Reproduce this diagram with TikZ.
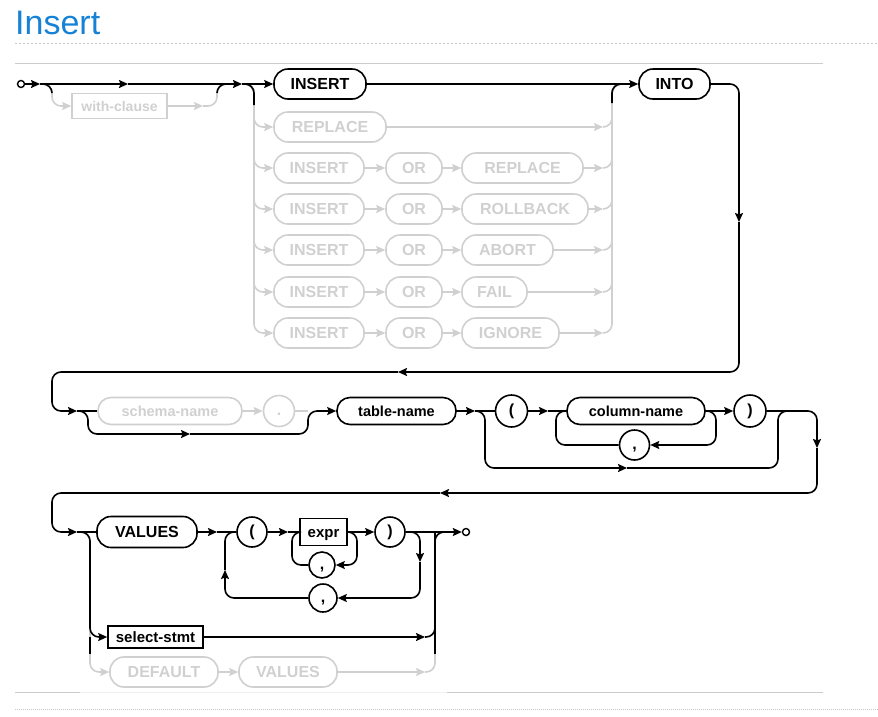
\documentclass[tikz,border=0pt]{standalone}
\usepackage{fontspec}
\setmainfont{Liberation Sans}
\usepackage{xcolor}
\usepackage{tikz}
\usetikzlibrary{shapes,arrows.meta,positioning}

\definecolor{ghost}{RGB}{208,208,208}
\definecolor{headblue}{RGB}{22,130,214}

\tikzset{
    wire/.style={line width=1.6pt},
    bent/.style={rounded corners=9pt},
    faded/.style={draw=ghost, text=ghost},
    kw/.style={draw, line width=1.6pt, rounded corners=14pt,
        minimum height=30pt, inner sep=0pt,
        font=\fontsize{16}{18}\selectfont\bfseries,
        text height=11.5pt, text depth=0pt},
    nm/.style={kw, minimum height=27pt, rounded corners=13pt,
        font=\fontsize{14.5}{17}\selectfont\bfseries, text height=10.5pt},
    ref/.style={draw, line width=1.6pt, inner sep=0pt,
        font=\fontsize{15}{17}\selectfont\bfseries,
        text height=10.5pt, text depth=0pt},
    tok/.style={draw, circle, line width=1.6pt, inner sep=0pt,
        minimum size=30pt, font=\fontsize{16}{18}\selectfont\bfseries,
        text height=11.5pt, text depth=3.5pt},
    term/.style={draw, circle, line width=1.4pt, inner sep=0pt,
        minimum size=7pt, fill=white},
    >={Stealth[length=9pt,width=8pt,inset=1.5pt]},
}

\begin{document}
\begin{tikzpicture}[x=1pt, y=-1pt]
                \useasboundingbox (0,0) rectangle (878,716);

                % heading and page rules
                \node[anchor=base west, inner sep=0pt, text=headblue,
                    font=\fontsize{34}{40}\selectfont] (head) at (15,34) {Insert};
                \draw[gray!45, line width=0.8pt, dash pattern=on 2pt off 2pt] (15,43) -- (878,43);
                \draw[gray!40, line width=1pt] (15,63) -- (823,63);
                \draw[gray!40, line width=1pt] (15,692) -- (823,692);
                \draw[gray!12, line width=1pt] (80,692) -- (447,692);
                \draw[gray!45, line width=0.8pt, dash pattern=on 1pt off 1pt] (15,709) -- (878,709);

                % first line: with-clause, verb, INTO
                \node[term] (beg) at (21,84) {};
                \node[ref, faded, minimum width=95pt, minimum height=25pt,
                    font=\fontsize{14}{16}\selectfont\bfseries] (withc) at (119.5,106) {with-clause};
                \node[kw, minimum width=92pt] (ins) at (320,84) {INSERT};
                \node[kw, minimum width=71pt] (into) at (674.5,84) {INTO};

                \node[kw, faded, minimum width=112pt] (rep2) at (330,127) {REPLACE};

                \node[kw, faded, minimum width=90pt] (ins3) at (319,168) {INSERT};
                \node[kw, faded, minimum width=56pt] (or3) at (414,168) {OR};
                \node[kw, faded, minimum width=121pt] (rep3) at (522.5,168) {REPLACE};

                \node[kw, faded, minimum width=90pt] (ins4) at (319,209) {INSERT};
                \node[kw, faded, minimum width=56pt] (or4) at (414,209) {OR};
                \node[kw, faded, minimum width=126pt] (rol4) at (525,209) {ROLLBACK};

                \node[kw, faded, minimum width=90pt] (ins5) at (319,250) {INSERT};
                \node[kw, faded, minimum width=56pt] (or5) at (414,250) {OR};
                \node[kw, faded, minimum width=91pt] (abo5) at (507.5,250) {ABORT};

                \node[kw, faded, minimum width=90pt] (ins6) at (319,292) {INSERT};
                \node[kw, faded, minimum width=56pt] (or6) at (414,292) {OR};
                \node[kw, faded, minimum width=65pt] (fail6) at (494.5,292) {FAIL};

                \node[kw, faded, minimum width=90pt] (ins7) at (319,333) {INSERT};
                \node[kw, faded, minimum width=56pt] (or7) at (414,333) {OR};
                \node[kw, faded, minimum width=97pt] (ign7) at (510.5,333) {IGNORE};

                % second line: table and columns
                \node[nm, faded, minimum width=144pt] (schema) at (170,411) {schema-name};
                \node[tok, faded, minimum size=31pt] (dot) at (279,411) {.};
                \node[nm, minimum width=119pt] (tbl) at (396.5,411) {table-name};
                \node[tok, minimum size=32pt] (lp1) at (511.5,411) {(};
                \node[nm, minimum width=138pt] (col) at (636,411) {column-name};
                \node[tok, minimum size=32pt] (rp1) at (750,411) {)};
                \node[tok] (cm1) at (634.5,445) {,};

                % third line: values
                \node[kw, minimum width=100pt, minimum height=31pt] (vals) at (147,532) {VALUES};
                \node[tok] (lp2) at (252,532) {(};
                \node[ref, minimum width=47pt, minimum height=27pt] (expr) at (323.5,532) {expr};
                \node[tok, minimum size=26pt] (cm2) at (322,565) {,};
                \node[tok] (rp2) at (390,532) {)};
                \node[tok, minimum size=28pt] (cm3) at (323,598) {,};
                \node[term] (fin) at (466,532) {};
                \node[ref, minimum width=95pt, minimum height=22pt] (sel) at (155.5,637) {select-stmt};
                \node[kw, faded, minimum width=108pt] (dflt) at (164,672) {DEFAULT};
                \node[kw, faded, minimum width=98pt] (vals2) at (288,672) {VALUES};

                % junctions
                \coordinate (m1) at (40,84);
                \coordinate (m2) at (128,84);
                \coordinate (m3) at (242,84);
                \coordinate (wl) at (52,93);
                \coordinate (w3) at (203,106);
                \coordinate (wr) at (217,93);
                \coordinate (w2) at (226,84);
                \coordinate (lx) at (254,84);
                \coordinate (lb) at (254,105);
                \coordinate (rt) at (603,84);
                \coordinate (rr) at (612,84);
                \coordinate (rb) at (612,103);
                \coordinate (rj) at (621,84);
                \coordinate (a1) at (739,222);
                \coordinate (a2) at (398,372);
                \coordinate (c1) at (52,411);
                \coordinate (a3) at (77,411);
                \coordinate (bl) at (88,434);
                \coordinate (b1) at (190,434);
                \coordinate (b2) at (308,411);
                \coordinate (p1) at (475,411);
                \coordinate (pl) at (485,468);
                \coordinate (p3) at (627,468);
                \coordinate (p4) at (778,411);
                \coordinate (p5) at (788,411);
                \coordinate (q1) at (548,411);
                \coordinate (q2) at (716,445);
                \coordinate (q4) at (556,411);
                \coordinate (r1) at (817,448);
                \coordinate (r2) at (440,493);
                \coordinate (c2) at (52,532);
                \coordinate (r4) at (77,532);
                \coordinate (sl) at (90,637);
                \coordinate (sb) at (90,654);
                \coordinate (dl) at (90,672);
                \coordinate (t1) at (217,532);
                \coordinate (t2) at (288,532);
                \coordinate (v1) at (357,565);
                \coordinate (v2) at (292,532);
                \coordinate (u1) at (420,562);
                \coordinate (u2) at (225,570);
                \coordinate (y1) at (425,672);
                \coordinate (y2) at (425,637);
                \coordinate (x0) at (435,532);
                \coordinate (xj) at (444,532);
                \coordinate (xb) at (435,654);

                % faded paths first
                \draw[wire, bent, faded, ->] (m1) -| (wl |- withc) -- (withc);
                \draw[wire, faded, ->] (withc) -- (w3);
                \draw[wire, bent, faded] (w3) -| (wr |- w2) -- (w2);

                \draw[wire, bent, faded, ->] (m3) -| (lx |- rep2) -- (rep2);
                \draw[wire, bent, faded, ->] (m3) -| (lx |- ins3) -- (ins3);
                \draw[wire, bent, faded, ->] (m3) -| (lx |- ins4) -- (ins4);
                \draw[wire, bent, faded, ->] (m3) -| (lx |- ins5) -- (ins5);
                \draw[wire, bent, faded, ->] (m3) -| (lx |- ins6) -- (ins6);
                \draw[wire, bent, faded, ->] (m3) -| (lx |- ins7) -- (ins7);

                \draw[wire, faded, ->] (ins3) -- (or3);
                \draw[wire, faded, ->] (or3) -- (rep3);
                \draw[wire, faded, ->] (ins4) -- (or4);
                \draw[wire, faded, ->] (or4) -- (rol4);
                \draw[wire, faded, ->] (ins5) -- (or5);
                \draw[wire, faded, ->] (or5) -- (abo5);
                \draw[wire, faded, ->] (ins6) -- (or6);
                \draw[wire, faded, ->] (or6) -- (fail6);
                \draw[wire, faded, ->] (ins7) -- (or7);
                \draw[wire, faded, ->] (or7) -- (ign7);

                \draw[wire, faded, ->] (rep2) -- (rt |- rep2);
                \draw[wire, faded, ->] (rep3) -- (rt |- rep3);
                \draw[wire, faded, ->] (rol4) -- (rt |- rol4);
                \draw[wire, faded, ->] (abo5) -- (rt |- abo5);
                \draw[wire, faded, ->] (fail6) -- (rt |- fail6);
                \draw[wire, faded, ->] (ign7) -- (rt |- ign7);
                \draw[wire, bent, faded] (rt |- rep2) -| (rr) -- (rj);
                \draw[wire, bent, faded] (rt |- rep3) -| (rr) -- (rj);
                \draw[wire, bent, faded] (rt |- rol4) -| (rr) -- (rj);
                \draw[wire, bent, faded] (rt |- abo5) -| (rr) -- (rj);
                \draw[wire, bent, faded] (rt |- fail6) -| (rr) -- (rj);
                \draw[wire, bent, faded] (rt |- ign7) -| (rr) -- (rj);

                \draw[wire, faded, ->] (schema) -- (dot);
                \draw[wire, faded] (dot) -- (b2);

                \draw[wire, bent, faded, ->] (r4) -| (dl) -- (dflt);
                \draw[wire, faded, ->] (dflt) -- (vals2);
                \draw[wire, faded, ->] (vals2) -- (y1);
                \draw[wire, bent, faded] (y1) -| (x0) -- (xj);

                % first line
                \draw[wire, ->] (beg) -- (m1);
                \draw[wire, ->] (m1) -- (m2);
                \draw[wire, ->] (m2) -- (m3);
                \draw[wire, ->] (m3) -- (ins);
                \draw[wire, bent] (m1) -| (wl);
                \draw[wire, bent] (wr) |- (w2);
                \draw[wire, bent] (m3) -| (lb);
                \draw[wire, bent] (rb) |- (rj);
                \draw[wire, ->] (ins) -- (into);

                % wrap to second line
                \draw[wire, bent, ->] (into) -| (a1);
                \draw[wire, bent, ->] (a1) |- (a2);
                \draw[wire, bent, ->] (a2) -| (c1) -- (a3);

                % second line
                \draw[wire] (a3) -- (schema);
                \draw[wire, bent, ->] (a3) -| (bl) -- (b1);
                \draw[wire, bent, ->] (b1) -| (b2) -- (tbl);
                \draw[wire, ->] (tbl) -- (p1);
                \draw[wire] (p1) -- (lp1);
                \draw[wire, bent, ->] (p1) -| (pl) -- (p3);
                \draw[wire, bent] (p3) -| (p4) -- (p5);
                \draw[wire, ->] (lp1) -- (q1);
                \draw[wire] (q1) -- (col);
                \draw[wire, bent, ->] (col) -| (q2) -- (cm1);
                \draw[wire, bent] (cm1) -| (q4) -- (col);
                \draw[wire, ->] (col) -- (rp1);

                % wrap to third line
                \draw[wire, bent, ->] (rp1) -| (r1);
                \draw[wire, bent, ->] (r1) |- (r2);
                \draw[wire, bent, ->] (r2) -| (c2) -- (r4);

                % third line
                \draw[wire] (r4) -- (vals);
                \draw[wire, bent, ->] (r4) -| (sl) -- (sel);
                \draw[wire] (sl) -- (sb);
                \draw[wire, ->] (vals) -- (t1);
                \draw[wire] (t1) -- (lp2);
                \draw[wire, ->] (lp2) -- (t2);
                \draw[wire] (t2) -- (expr);
                \draw[wire, bent, ->] (expr) -| (v1) -- (cm2);
                \draw[wire, bent] (cm2) -| (v2) -- (expr);
                \draw[wire, ->] (expr) -- (rp2);
                \draw[wire, bent, ->] (rp2) -| (u1);
                \draw[wire, bent, ->] (u1) |- (cm3);
                \draw[wire, bent, ->] (cm3) -| (u2);
                \draw[wire, bent] (u2) |- (lp2);
                \draw[wire, ->] (rp2) -- (fin);
                \draw[wire, ->] (sel) -- (y2);
                \draw[wire, bent] (y2) -| (x0) -- (xj);
                \draw[wire] (x0) -- (xb);

\end{tikzpicture}
\end{document}
